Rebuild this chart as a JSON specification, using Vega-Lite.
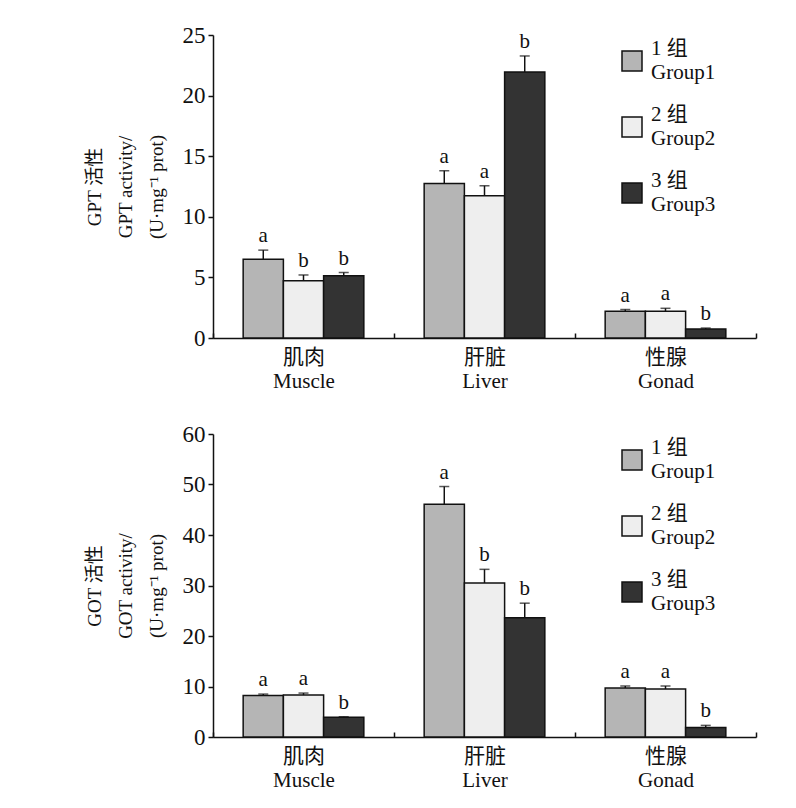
{
  "$schema": "https://vega.github.io/schema/vega-lite/v6.json",
  "background": "white",
  "padding": {"left": 85, "top": 24, "right": 5, "bottom": 5},
  "config": {
    "view": {"stroke": null},
    "font": "Liberation Serif",
    "axis": {
      "labelFont": "Liberation Serif, Noto Sans CJK SC",
      "titleFont": "Liberation Serif, Noto Sans CJK SC",
      "labelColor": "#111",
      "titleColor": "#111",
      "domainColor": "#111",
      "tickColor": "#111",
      "domainWidth": 1.5,
      "tickWidth": 1.5,
      "grid": false,
      "titleFontWeight": "normal"
    },
    "legend": {
      "labelFont": "Liberation Serif, Noto Sans CJK SC",
      "labelColor": "#111"
    },
    "style": {"guide-label": {"lineHeight": 24}}
  },
  "datasets": {
    "gpt": [
      {"tissue": "肌肉|Muscle", "group": "1", "value": 6.5, "err": 7.25, "sig": "a"},
      {"tissue": "肌肉|Muscle", "group": "2", "value": 4.72, "err": 5.2, "sig": "b"},
      {"tissue": "肌肉|Muscle", "group": "3", "value": 5.14, "err": 5.4, "sig": "b"},
      {"tissue": "肝脏|Liver", "group": "1", "value": 12.75, "err": 13.8, "sig": "a"},
      {"tissue": "肝脏|Liver", "group": "2", "value": 11.73, "err": 12.56, "sig": "a"},
      {"tissue": "肝脏|Liver", "group": "3", "value": 21.95, "err": 23.27, "sig": "b"},
      {"tissue": "性腺|Gonad", "group": "1", "value": 2.2, "err": 2.35, "sig": "a"},
      {"tissue": "性腺|Gonad", "group": "2", "value": 2.2, "err": 2.45, "sig": "a"},
      {"tissue": "性腺|Gonad", "group": "3", "value": 0.74, "err": 0.82, "sig": "b"}
    ],
    "got": [
      {"tissue": "肌肉|Muscle", "group": "1", "value": 8.2, "err": 8.5, "sig": "a"},
      {"tissue": "肌肉|Muscle", "group": "2", "value": 8.3, "err": 8.7, "sig": "a"},
      {"tissue": "肌肉|Muscle", "group": "3", "value": 3.9, "err": 4.0, "sig": "b"},
      {"tissue": "肝脏|Liver", "group": "1", "value": 46.1, "err": 49.6, "sig": "a"},
      {"tissue": "肝脏|Liver", "group": "2", "value": 30.5, "err": 33.2, "sig": "b"},
      {"tissue": "肝脏|Liver", "group": "3", "value": 23.6, "err": 26.5, "sig": "b"},
      {"tissue": "性腺|Gonad", "group": "1", "value": 9.7, "err": 10.1, "sig": "a"},
      {"tissue": "性腺|Gonad", "group": "2", "value": 9.5, "err": 10.1, "sig": "a"},
      {"tissue": "性腺|Gonad", "group": "3", "value": 1.9, "err": 2.3, "sig": "b"}
    ]
  },
  "spacing": 32,
  "resolve": {"scale": {"color": "independent", "y": "independent"}, "legend": {"color": "independent"}},
  "vconcat": [
    {
      "width": 543,
      "height": 303,
      "data": {"name": "gpt"},
      "encoding": {
        "x": {"field": "tissue", "type": "nominal", "sort": ["肌肉|Muscle", "肝脏|Liver", "性腺|Gonad"],
          "scale": {"paddingInner": 0, "paddingOuter": 0},
          "axis": {"title": null, "labelAngle": 0, "labelExpr": "split(datum.label, '|')", "tickBand": "extent", "tickSize": -5, "labelPadding": 13, "labelFontSize": 21, "labelBaseline": "top"}},
        "xOffset": {"field": "group", "type": "nominal", "scale": {"paddingInner": 0, "paddingOuter": 0.75}}
      },
      "layer": [
        {
          "mark": {"type": "bar", "stroke": "#111", "strokeWidth": 1.5},
          "encoding": {
            "y": {"field": "value", "type": "quantitative", "scale": {"domain": [0, 25], "nice": false},
              "axis": {"title": ["GPT 活性", "GPT activity/", "(U·mg⁻¹ prot)"], "titleFontSize": 19, "titleLineHeight": 31, "titlePadding": 16, "values": [0, 5, 10, 15, 20, 25], "labelFontSize": 23, "tickSize": 5, "labelPadding": 3}},
            "color": {"field": "group", "type": "nominal",
              "scale": {"domain": ["1", "2", "3"], "range": ["#b5b5b5", "#eeeeee", "#333333"]},
              "legend": {"orient": "none", "legendX": 408, "legendY": 3, "title": null, "symbolType": "M-1,0.2H1V2.2H-1Z", "symbolSize": 400, "symbolStrokeColor": "#111", "symbolStrokeWidth": 1.5, "labelExpr": "[datum.label + ' 组', 'Group' + datum.label]", "labelFontSize": 21, "rowPadding": 21, "labelOffset": 8}}
          }
        },
        {
          "mark": {"type": "rule", "strokeWidth": 1.5, "color": "#111"},
          "encoding": {"y": {"field": "value", "type": "quantitative"}, "y2": {"field": "err"}}
        },
        {
          "mark": {"type": "tick", "thickness": 1.5, "size": 10, "color": "#111", "orient": "horizontal"},
          "encoding": {"y": {"field": "err", "type": "quantitative"}}
        },
        {
          "mark": {"type": "text", "baseline": "bottom", "dy": -4, "fontSize": 21, "font": "Liberation Serif", "color": "#111"},
          "encoding": {"y": {"field": "err", "type": "quantitative"}, "text": {"field": "sig"}}
        }
      ]
    },
    {
      "width": 543,
      "height": 303,
      "data": {"name": "got"},
      "encoding": {
        "x": {"field": "tissue", "type": "nominal", "sort": ["肌肉|Muscle", "肝脏|Liver", "性腺|Gonad"],
          "scale": {"paddingInner": 0, "paddingOuter": 0},
          "axis": {"title": null, "labelAngle": 0, "labelExpr": "split(datum.label, '|')", "tickBand": "extent", "tickSize": -5, "labelPadding": 13, "labelFontSize": 21, "labelBaseline": "top"}},
        "xOffset": {"field": "group", "type": "nominal", "scale": {"paddingInner": 0, "paddingOuter": 0.75}}
      },
      "layer": [
        {
          "mark": {"type": "bar", "stroke": "#111", "strokeWidth": 1.5},
          "encoding": {
            "y": {"field": "value", "type": "quantitative", "scale": {"domain": [0, 60], "nice": false},
              "axis": {"title": ["GOT 活性", "GOT activity/", "(U·mg⁻¹ prot)"], "titleFontSize": 19, "titleLineHeight": 31, "titlePadding": 16, "values": [0, 10, 20, 30, 40, 50, 60], "labelFontSize": 23, "tickSize": 5, "labelPadding": 3}},
            "color": {"field": "group", "type": "nominal",
              "scale": {"domain": ["1", "2", "3"], "range": ["#b5b5b5", "#eeeeee", "#333333"]},
              "legend": {"orient": "none", "legendX": 408, "legendY": 3, "title": null, "symbolType": "M-1,0.2H1V2.2H-1Z", "symbolSize": 400, "symbolStrokeColor": "#111", "symbolStrokeWidth": 1.5, "labelExpr": "[datum.label + ' 组', 'Group' + datum.label]", "labelFontSize": 21, "rowPadding": 21, "labelOffset": 8}}
          }
        },
        {
          "mark": {"type": "rule", "strokeWidth": 1.5, "color": "#111"},
          "encoding": {"y": {"field": "value", "type": "quantitative"}, "y2": {"field": "err"}}
        },
        {
          "mark": {"type": "tick", "thickness": 1.5, "size": 10, "color": "#111", "orient": "horizontal"},
          "encoding": {"y": {"field": "err", "type": "quantitative"}}
        },
        {
          "mark": {"type": "text", "baseline": "bottom", "dy": -4, "fontSize": 21, "font": "Liberation Serif", "color": "#111"},
          "encoding": {"y": {"field": "err", "type": "quantitative"}, "text": {"field": "sig"}}
        }
      ]
    }
  ]
}
